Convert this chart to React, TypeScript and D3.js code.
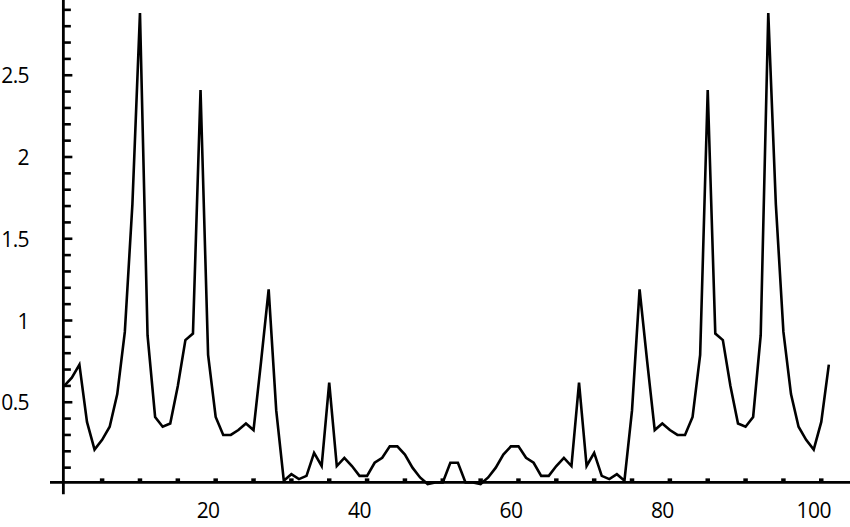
import React from 'react';
import * as d3 from 'd3';

// sample values, one per index starting at 1
const values: number[] = [
  0.60, 0.65, 0.73, 0.38, 0.21, 0.27, 0.35, 0.55, 0.93, 1.71,
  2.88, 0.91, 0.41, 0.35, 0.37, 0.60, 0.88, 0.92, 2.41, 0.79,
  0.41, 0.30, 0.30, 0.33, 0.37, 0.33, 0.75, 1.19, 0.45, 0.02,
  0.06, 0.03, 0.05, 0.19, 0.11, 0.62, 0.11, 0.16, 0.11, 0.05,
  0.05, 0.13, 0.16, 0.23, 0.23, 0.18, 0.10, 0.04, 0.00, 0.01,
  0.01, 0.13, 0.13, 0.01, 0.01, 0.00, 0.04, 0.10, 0.18, 0.23,
  0.23, 0.16, 0.13, 0.05, 0.05, 0.11, 0.16, 0.11, 0.62, 0.11,
  0.19, 0.05, 0.03, 0.06, 0.02, 0.45, 1.19, 0.75, 0.33, 0.37,
  0.33, 0.30, 0.30, 0.41, 0.79, 2.41, 0.92, 0.88, 0.60, 0.37,
  0.35, 0.41, 0.91, 2.88, 1.71, 0.93, 0.55, 0.35, 0.27, 0.21,
  0.38, 0.73,
];

const xTickValues = [6, 11, 16, 21, 26, 31, 36, 41, 46, 51, 56, 61, 66, 71, 76, 81, 86, 91, 96, 101];
const xLabels = [20, 40, 60, 80, 100];
const yTickValues = d3.range(1, 30).map(k => k / 10);
const yLabels = [0.5, 1, 1.5, 2, 2.5];

const W = 850;
const H = 527;
const originX = 0.88;
const originY = 0.01;

export default function App() {
  const x = d3.scaleLinear().domain([0, 100]).range([56.7, 813.7]);
  const y = d3.scaleLinear().domain([0, 1]).range([484, 320.5]);

  const line = d3.line<number>()
    .x((_, i) => x(i + 1))
    .y(d => y(d));

  const ax = x(originX);
  const ay = y(originY);
  const font = { fontFamily: '"Open Sans", sans-serif', fontSize: 21, letterSpacing: -0.6 };

  return (
    <svg width={W} height={H} style={{ position: 'absolute', left: 0, top: 0, background: '#fff' }}>
      <rect width={W} height={H} fill="#fff" />
      <path d={line(values) || ''} fill="none" stroke="#000" strokeWidth={2.6} strokeLinejoin="miter" />

      {/* x axis */}
      <line x1={50} x2={W} y1={ay} y2={ay} stroke="#000" strokeWidth={2.6} />
      {xTickValues.map(t => (
        <line key={t} x1={x(t)} x2={x(t)} y1={ay} y2={ay - 4} stroke="#000" strokeWidth={4.5} />
      ))}
      {xLabels.map(t => (
        <text key={t} x={x(t)} y={ay + 28} textAnchor="middle" dominantBaseline="central" {...font}>{t}</text>
      ))}

      {/* y axis */}
      <line x1={ax} x2={ax} y1={0} y2={ay + 12} stroke="#000" strokeWidth={2.8} />
      {yTickValues.map(t => (
        <line key={t} x1={ax} x2={ax + (yLabels.includes(t) ? 9 : 7.5)} y1={y(t)} y2={y(t)} stroke="#000" strokeWidth={2.6} />
      ))}
      {yLabels.map(t => (
        <text key={t} x={29} y={y(t)} textAnchor="end" dominantBaseline="central" {...font}>{String(t)}</text>
      ))}
    </svg>
  );
}
